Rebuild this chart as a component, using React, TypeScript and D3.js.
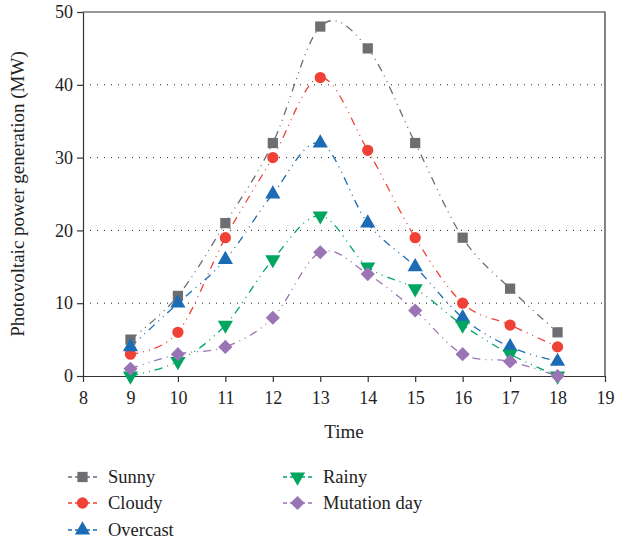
import React, { useEffect, useRef } from "react";
import * as d3 from "d3";

// hours on the x axis
const hours = [9, 10, 11, 12, 13, 14, 15, 16, 17, 18];

const sunny = [5, 11, 21, 32, 48, 45, 32, 19, 12, 6];
const cloudy = [3, 6, 19, 30, 41, 31, 19, 10, 7, 4];
const overcast = [4, 10, 16, 25, 32, 21, 15, 8, 4, 2];
const rainy = [0, 2, 7, 16, 22, 15, 12, 7, 3, 0];
const mutation = [1, 3, 4, 8, 17, 14, 9, 3, 2, 0];

const seriesNames = ["Sunny", "Cloudy", "Overcast", "Rainy", "Mutation day"];
const seriesValues = [sunny, cloudy, overcast, rainy, mutation];
const seriesColors = ["#6d6e71", "#ef4136", "#1b6cb5", "#00a560", "#9a74b4"];
const seriesSymbols = ["square", "circle", "triangle", "down", "diamond"];

const xTicks = [8, 9, 10, 11, 12, 13, 14, 15, 16, 17, 18, 19];
const yTicks = [0, 10, 20, 30, 40, 50];

const FONT = "Liberation Serif";

const App = () => {
  const svgRef = useRef<SVGSVGElement>(null);

  useEffect(() => {
    const width = 635,
      height = 545;
    const left = 83,
      right = 605,
      top = 12,
      bottom = 376;

    const svg = d3.select(svgRef.current).attr("width", width).attr("height", height);
    svg.selectAll("*").remove();

    const x = d3.scaleLinear().domain([8, 19]).range([left, right]);
    const y = d3.scaleLinear().domain([0, 50]).range([bottom, top]);

    // dotted grid lines
    svg.append("g")
      .selectAll("line")
      .data(yTicks.filter(t => t > 0 && t < 50))
      .join("line")
      .attr("x1", left)
      .attr("x2", right)
      .attr("y1", d => y(d))
      .attr("y2", d => y(d))
      .attr("stroke", "#222")
      .attr("stroke-width", 1)
      .attr("stroke-dasharray", "1,6");

    // frame top and right
    svg.append("path")
      .attr("d", `M${left},${top}H${right}V${bottom}`)
      .attr("fill", "none")
      .attr("stroke", "#333")
      .attr("stroke-width", 1.2);

    const xAxis = svg.append("g")
      .attr("transform", `translate(0,${bottom})`)
      .call(d3.axisBottom(x).tickValues(xTicks).tickSize(6).tickSizeOuter(0).tickFormat(d3.format("d")));
    const yAxis = svg.append("g")
      .attr("transform", `translate(${left},0)`)
      .call(d3.axisLeft(y).tickValues(yTicks).tickSize(6).tickSizeOuter(0));

    [xAxis, yAxis].forEach(ax => {
      ax.attr("font-family", FONT).attr("font-size", 18);
      ax.selectAll("path, line").attr("stroke", "#333").attr("stroke-width", 1.2);
      ax.selectAll("text").attr("fill", "#222");
    });
    xAxis.selectAll("text").attr("dy", "1.05em");
    yAxis.selectAll("text").attr("x", -10);

    svg.append("text")
      .attr("x", (left + right) / 2)
      .attr("y", 438)
      .attr("text-anchor", "middle")
      .attr("font-family", FONT)
      .attr("font-size", 19)
      .attr("fill", "#222")
      .text("Time");

    svg.append("text")
      .attr("transform", `translate(24,${(top + bottom) / 2}) rotate(-90)`)
      .attr("text-anchor", "middle")
      .attr("font-family", FONT)
      .attr("font-size", 19)
      .attr("fill", "#222")
      .text("Photovoltaic power generation (MW)");

    const symbolPath = (kind: string) => {
      if (kind === "square") return d3.symbol(d3.symbolSquare, 105)();
      if (kind === "circle") return d3.symbol(d3.symbolCircle, 100)();
      if (kind === "triangle") return d3.symbol(d3.symbolTriangle, 100)();
      if (kind === "down") return d3.symbol(d3.symbolTriangle, 100)();
      return d3.symbol(d3.symbolSquare, 100)();
    };
    const symbolRotate = (kind: string) =>
      kind === "down" ? " rotate(180)" : kind === "diamond" ? " rotate(45)" : "";

    const line = d3.line<number>()
      .x((_, i) => x(hours[i]))
      .y(d => y(d))
      .curve(d3.curveCardinal.tension(0));

    // lines
    seriesValues.forEach((vals, s) => {
      svg.append("path")
        .datum(vals)
        .attr("d", line)
        .attr("fill", "none")
        .attr("stroke", seriesColors[s])
        .attr("stroke-width", 1.3)
        .attr("stroke-dasharray", "8,5,1,5,1,5");
    });

    // markers
    seriesValues.forEach((vals, s) => {
      svg.append("g")
        .selectAll("path")
        .data(vals)
        .join("path")
        .attr("d", symbolPath(seriesSymbols[s]))
        .attr("transform", (d, i) => `translate(${x(hours[i])},${y(d)})${symbolRotate(seriesSymbols[s])}`)
        .attr("fill", seriesColors[s]);
    });

    // legend
    const legendPos = [
      [68, 477], [68, 503], [68, 530], [283, 477], [283, 503],
    ];
    seriesNames.forEach((name, s) => {
      const [lx, ly] = legendPos[s];
      const g = svg.append("g").attr("transform", `translate(${lx},${ly})`);
      g.append("line")
        .attr("x1", 0).attr("x2", 29)
        .attr("y1", 0).attr("y2", 0)
        .attr("stroke", seriesColors[s])
        .attr("stroke-width", 1.3)
        .attr("stroke-dasharray", "4,3,15,3,4");
      g.append("path")
        .attr("d", symbolPath(seriesSymbols[s]))
        .attr("transform", `translate(14.5,0)${symbolRotate(seriesSymbols[s])}`)
        .attr("fill", seriesColors[s]);
      g.append("text")
        .attr("x", 40)
        .attr("y", 0)
        .attr("dy", "0.35em")
        .attr("font-family", FONT)
        .attr("font-size", 18.5)
        .attr("fill", "#222")
        .text(name);
    });
  }, []);

  return (
    <svg ref={svgRef} style={{ position: "absolute", left: 0, top: 0, background: "#fff" }}></svg>
  );
};

export default App;
